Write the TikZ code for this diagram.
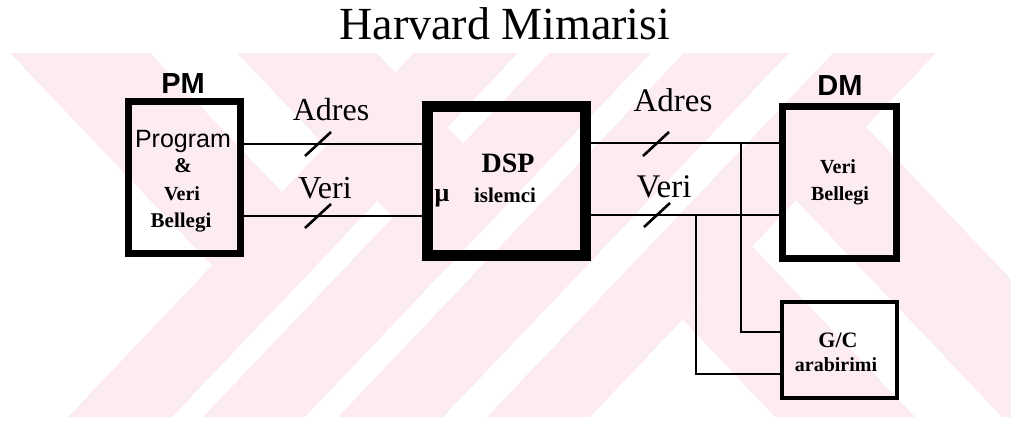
\documentclass[tikz,border=0pt]{standalone}
\usepackage{fontspec}
\setmainfont{Liberation Serif}
\setsansfont{Liberation Sans}
\definecolor{wm}{RGB}{252,235,240}
\newcommand\setfs[1]{\fontsize{#1}{#1}\selectfont}
\tikzset{
  box/.style={draw=black, line width=#1, inner sep=0pt},
  bus/.style={line width=2pt},
  busmark/.style={line width=2.6pt},
  lbl/.style={anchor=base, inner sep=0pt},
}
\begin{document}
\begin{tikzpicture}[x=1pt,y=-1pt]
\useasboundingbox (0,0) rectangle (1011,421);
% watermark
\begin{scope}
\clip (0,53) rectangle (1011,417);
\fill[wm] (68,417) -- (172,417) -- (518,53) -- (414,53) -- cycle;
\fill[wm] (203,417) -- (305,417) -- (651,53) -- (549,53) -- cycle;
\fill[wm] (338,417) -- (443,417) -- (789,53) -- (684,53) -- cycle;
\fill[wm] (487,417) -- (590,417) -- (936,53) -- (833,53) -- cycle;
\fill[wm] (10,53) -- (150,53) -- (334,247) -- (264,320) -- cycle;
\fill[wm] (237,53) -- (377,53) -- (514,197) -- (444,271) -- cycle;
\fill[wm] (683,320) -- (775,417) -- (915,417) -- (752,246) -- cycle;
\fill[wm] (796,200) -- (1002,417) -- (1142,417) -- (866,127) -- cycle;
\end{scope}
% title
\node[lbl] (title) at (505,39) {\setfs{46}Harvard Mimarisi};
% boxes
\node[box=7pt, minimum width=112pt, minimum height=152pt] (pm) at (184,177) {};
\node[box=11pt, minimum width=158pt, minimum height=149pt] (dsp) at (506,180.5) {};
\node[box=7pt, minimum width=114pt, minimum height=152pt] (dm) at (839,182) {};
\node[box=4.5pt, minimum width=115pt, minimum height=96pt] (gc) at (839.5,350) {};
% box titles
\node[lbl] (pmlbl) at (183,93) {\setfs{29}\sffamily\bfseries PM};
\node[lbl] (dmlbl) at (840,95) {\setfs{29}\sffamily\bfseries DM};
% PM text
\node[lbl] (pmt1) at (183,147) {\setfs{25}\sffamily Program};
\node[lbl] (pmt2) at (183,172) {\setfs{21}\bfseries \&};
\node[lbl] (pmt3) at (182,200) {\setfs{20}\bfseries Veri};
\node[lbl] (pmt4) at (181,227) {\setfs{21}\bfseries Bellegi};
% DSP text
\node[lbl] (dspt1) at (508,172) {\setfs{28}\bfseries DSP};
\node[lbl] (dspmu) at (442,201) {\setfs{26}\bfseries μ};
\node[lbl] (dspt2) at (505,202) {\setfs{21}\bfseries islemci};
% DM text
\node[lbl] (dmt1) at (838,173) {\setfs{20}\bfseries Veri};
\node[lbl] (dmt2) at (840,200) {\setfs{20}\bfseries Bellegi};
% G/C text
\node[lbl] (gct1) at (838,347) {\setfs{22}\bfseries G/C};
\node[lbl] (gct2) at (836,371) {\setfs{20}\bfseries arabirimi};
% bus labels
\node[lbl] (adresL) at (331,120) {\setfs{32}Adres};
\node[lbl] (veriL) at (325,198) {\setfs{32}Veri};
\node[lbl] (adresR) at (673,111) {\setfs{33}Adres};
\node[lbl] (veriR) at (664,197) {\setfs{33}Veri};
% bus levels
\coordinate (yLA) at (0,144);
\coordinate (yLV) at (0,216);
\coordinate (yRA) at (0,143);
\coordinate (yRV) at (0,215);
% buses
\draw[bus] (pm.east |- yLA) -- (dsp.west |- yLA);
\draw[bus] (pm.east |- yLV) -- (dsp.west |- yLV);
\draw[bus] (dsp.east |- yRA) -- (dm.west |- yRA);
\draw[bus] (dsp.east |- yRV) -- (dm.west |- yRV);
% branches to G/C
\coordinate (j1) at (741,143);
\coordinate (j2) at (696,215);
\draw[bus] (j1) |- ([yshift=18pt]gc.west);
\draw[bus] (j2) |- ([yshift=-24pt]gc.west);
% bus width marks
\coordinate (m1) at (318,144);
\coordinate (m2) at (318,216);
\coordinate (m3) at (656,144);
\coordinate (m4) at (657,215);
\foreach \m in {m1,m2,m3,m4}
  \draw[busmark] (\m) ++(-13,12) -- ++(26,-24);
\end{tikzpicture}
\end{document}
